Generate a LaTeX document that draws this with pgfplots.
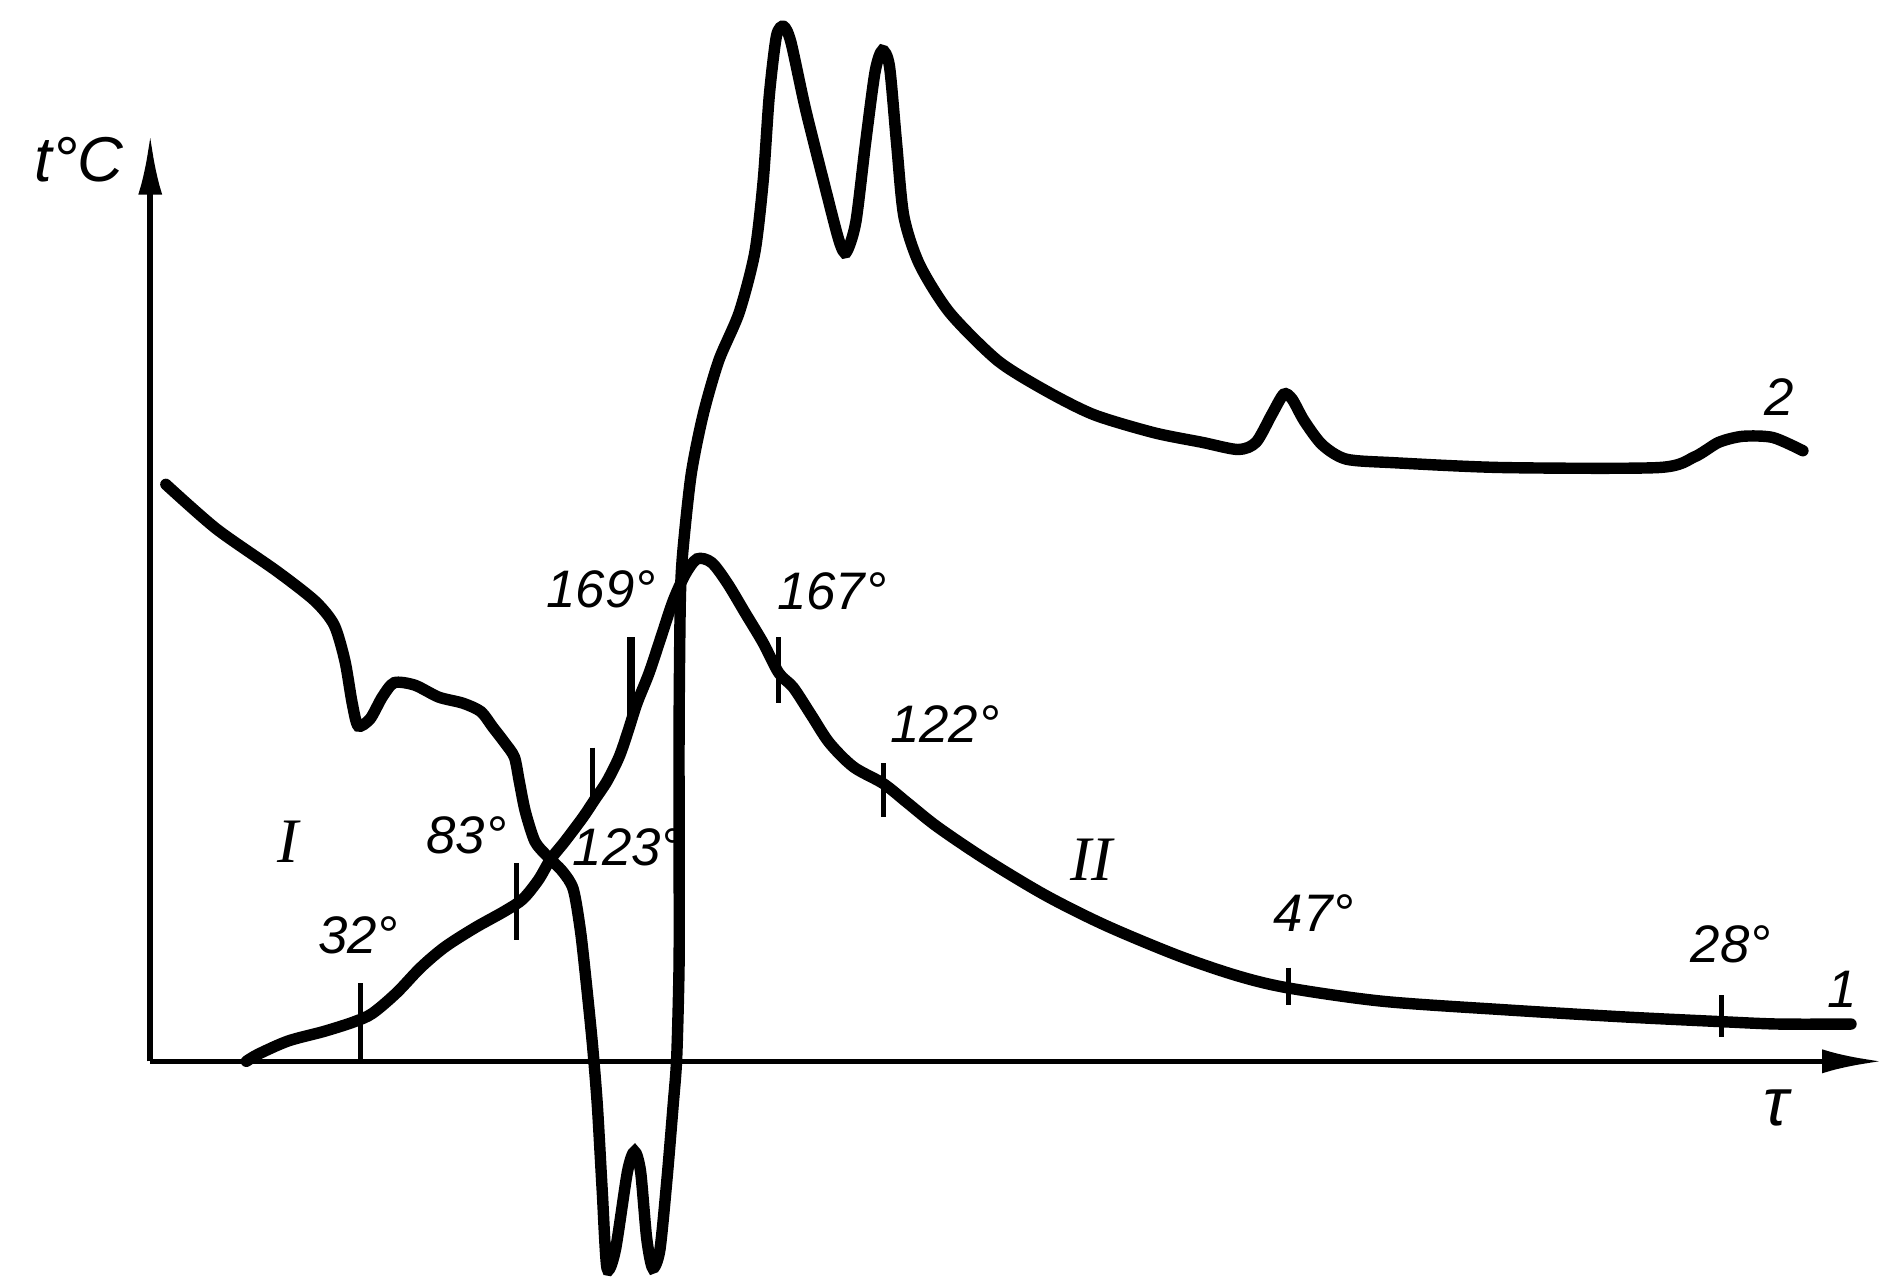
\documentclass[border=0pt]{standalone}
\usepackage{fontspec}
\setmainfont{Liberation Sans}
\newfontfamily\serifit{Liberation Serif}
\usepackage{pgfplots}
\pgfplotsset{compat=1.18}
\usetikzlibrary{arrows.meta}
\begin{document}
\begin{tikzpicture}
\begin{axis}[x=0.1mm, y=0.1mm, xmin=0, xmax=1568, ymin=0, ymax=1063,
  y dir=reverse, hide axis, clip=false, scale only axis]
% axes
\addplot[line width=1.3pt, -{Latex[length=5mm,width=2mm]}] coordinates {(125,883)(125,112)};
\addplot[line width=1.3pt, -{Latex[length=5mm,width=2mm]}] coordinates {(125,883)(1566,883)};
% curve 1 (I heating, II cooling)
\addplot[line width=2.7pt, smooth, tension=0.5, line cap=round] coordinates {
(205,883)(215,877)(240,866)(270,858)(295,850)(310,843)(330,826)(350,805)(370,788)(395,772)(420,758)(435,748)(448,732)(458,715)(470,700)(485,680)(495,665)(505,650)(515,630)(522,610)(530,585)(540,560)(550,530)(560,500)(570,478)(580,465)(592,468)(605,485)(620,510)(635,535)(648,560)(660,572)(675,595)(690,618)(710,638)(735,652)(755,668)(780,688)(820,715)(870,745)(920,770)(980,795)(1030,812)(1072,822)(1150,833)(1250,840)(1350,846)(1432,850)(1480,852)(1540,852)};
% curve 2 (DTA)
\addplot[line width=2.7pt, smooth, tension=0.45, line cap=round] coordinates {
(138,403)(180,440)(230,475)(262,500)(278,520)(287,550)(293,585)(298,604)(308,598)(318,580)(328,568)(345,570)(365,580)(385,585)(400,592)(410,605)(420,618)(428,630)(432,650)(437,675)(445,700)(455,712)(468,725)(477,740)(483,775)(488,820)(493,870)(497,920)(501,990)(505,1055)(512,1040)(522,975)(528,958)(533,975)(538,1030)(543,1055)(549,1040)(555,980)(560,920)(563,880)(565,800)(565,700)(565,600)(566,500)(568,460)(575,395)(585,345)(598,300)(615,260)(628,210)(635,150)(640,80)(646,30)(652,22)(658,35)(670,90)(685,150)(698,200)(704,210)(712,185)(720,120)(728,60)(734,42)(740,55)(746,120)(752,180)(765,220)(790,260)(830,300)(870,325)(910,345)(960,360)(1000,368)(1030,374)(1045,368)(1058,345)(1068,328)(1075,332)(1085,350)(1100,370)(1120,382)(1160,385)(1250,389)(1380,389)(1410,380)(1430,368)(1450,363)(1475,364)(1500,375)};
% temperature ticks on curve 1
\addplot[line width=1.2pt] coordinates {(300,818)(300,883)};
\addplot[line width=1.2pt] coordinates {(430,718)(430,782)};
\addplot[line width=1.2pt] coordinates {(493,622)(493,672)};
\addplot[line width=1.8pt] coordinates {(525,530)(525,600)};
\addplot[line width=1.2pt] coordinates {(648,530)(648,585)};
\addplot[line width=1.2pt] coordinates {(735,635)(735,680)};
\addplot[line width=1.2pt] coordinates {(1072,805)(1072,836)};
\addplot[line width=1.2pt] coordinates {(1432,828)(1432,863)};
% labels
\begin{scope}[every node/.style={font=\fontsize{12.5}{14}\selectfont\itshape}]
\node at (axis cs:66,133) {\fontsize{15}{17}\selectfont t°C};
\node at (axis cs:1478,922) {\fontsize{16}{18}\selectfont τ};
\node at (axis cs:240,700) {\serifit\fontsize{15}{17}\selectfont\itshape I};
\node at (axis cs:908,715) {\serifit\fontsize{15}{17}\selectfont\itshape II};
\node at (axis cs:298,778) {32°};
\node at (axis cs:388,695) {83°};
\node at (axis cs:522,705) {123°};
\node at (axis cs:500,490) {169°};
\node at (axis cs:692,492) {167°};
\node at (axis cs:786,602) {122°};
\node at (axis cs:1093,760) {47°};
\node at (axis cs:1440,786) {28°};
\node at (axis cs:1533,823) {1};
\node at (axis cs:1480,330) {2};
\end{scope}
\end{axis}
\path (current axis.south west) rectangle (current axis.north east);
\end{tikzpicture}
\end{document}
